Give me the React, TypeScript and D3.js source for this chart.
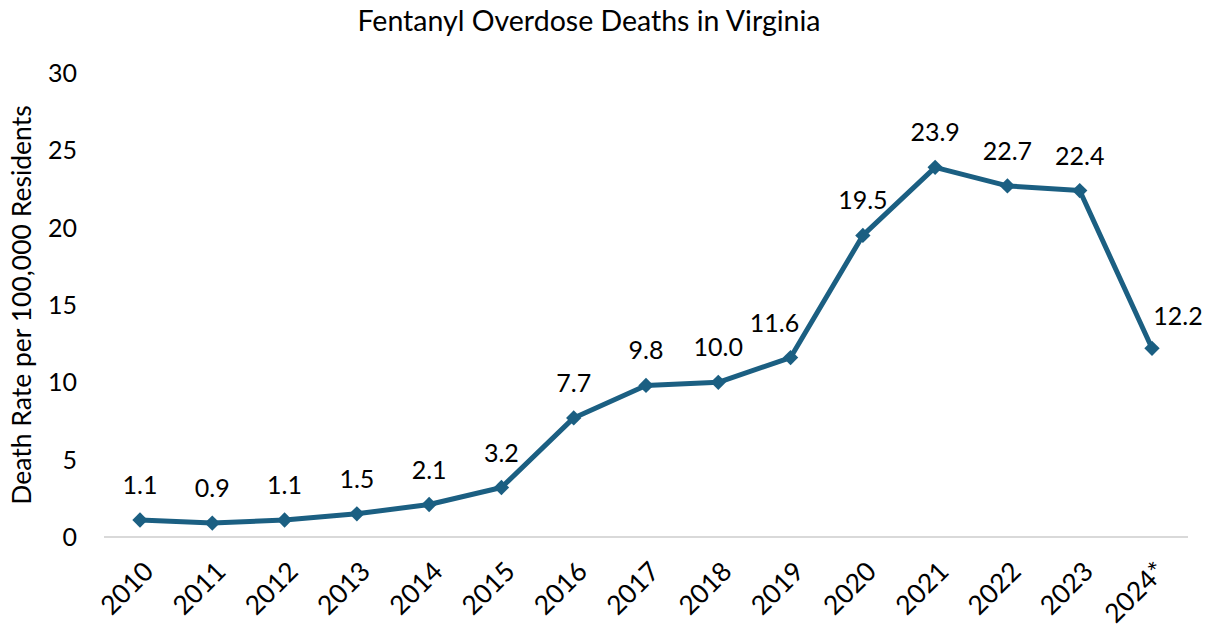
import React from "react";
import * as d3 from "d3";

const years = ["2010","2011","2012","2013","2014","2015","2016","2017","2018","2019","2020","2021","2022","2023","2024*"];
const rates = [1.1,0.9,1.1,1.5,2.1,3.2,7.7,9.8,10.0,11.6,19.5,23.9,22.7,22.4,12.2];
const yTicks = [0,5,10,15,20,25,30];

const W = 1206, H = 628;
const FONT = "Lato, 'Open Sans', sans-serif";
const COLOR = "#1b5f82";

export default function App() {
  const x = d3.scalePoint<string>().domain(years).range([140, 1152]);
  const y = d3.scaleLinear().domain([0, 30]).range([537, 73]);
  const line = d3.line<number>().x((_, i) => x(years[i])!).y(d => y(d));
  const labelDx = (i: number) => (i === 9 ? -16 : i === 14 ? 26 : 0);
  const labelDy = (i: number) => (i === 14 ? -23 : -26);
  return (
    <svg width={W} height={H} style={{ position: "absolute", left: 0, top: 0, background: "#fff" }} fontFamily={FONT}>
      <text x={589} y={31} textAnchor="middle" fontSize={28.5} fill="#000">Fentanyl Overdose Deaths in Virginia</text>
      <text transform={`translate(31,305) rotate(-90)`} textAnchor="middle" fontSize={26.5} fill="#000">Death Rate per 100,000 Residents</text>
      {yTicks.map(t => (
        <text key={t} x={77} y={y(t)} dy="0.36em" textAnchor="end" fontSize={25} fill="#000">{t}</text>
      ))}
      <line x1={104} x2={1188} y1={y(0)} y2={y(0)} stroke="#d9d9d9" strokeWidth={2} />
      {years.map(yr => (
        <text key={yr} transform={`translate(${x(yr)! + 2},${560}) rotate(-45)`} textAnchor="end" dy="0.7em" fontSize={26.5} fill="#000">{yr}</text>
      ))}
      <path d={line(rates) || ""} fill="none" stroke={COLOR} strokeWidth={5} strokeLinejoin="round" />
      {rates.map((v, i) => (
        <path key={i} d={d3.symbol().type(d3.symbolDiamond2).size(150)() || ""} transform={`translate(${x(years[i])},${y(v)})`} fill={COLOR} />
      ))}
      {rates.map((v, i) => (
        <text key={i} x={x(years[i])! + labelDx(i)} y={y(v) + labelDy(i)} textAnchor="middle" fontSize={25} fill="#000">{v.toFixed(1)}</text>
      ))}
    </svg>
  );
}
